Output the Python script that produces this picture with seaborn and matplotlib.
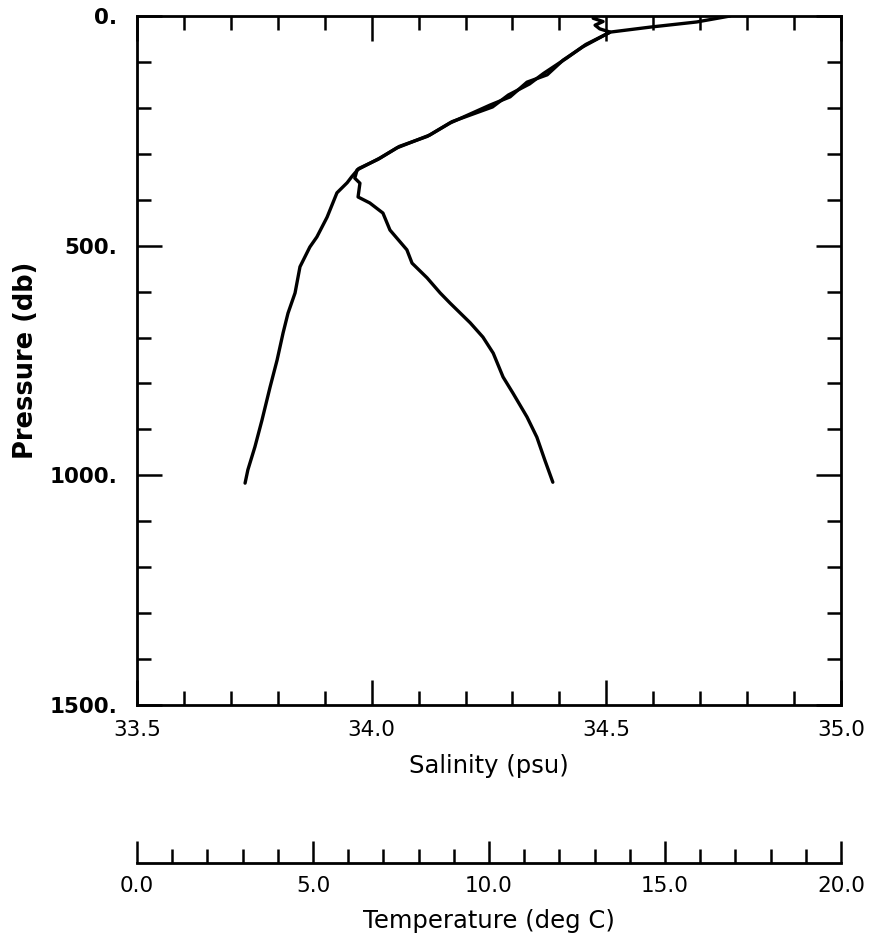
import numpy as np
import pandas as pd
import seaborn as sns
import matplotlib.pyplot as plt
from matplotlib.ticker import MultipleLocator

# salinity profile (psu) vs pressure (db)
sal_pres = [0, 5, 12, 20, 28, 35, 67, 96, 128, 144, 176, 194, 233, 259, 287, 309,
            335, 353, 364, 394, 407, 429, 466, 509, 538, 570, 603, 625, 668, 699,
            734, 786, 821, 873, 917, 967, 1015]
sal_vals = [34.48, 34.472, 34.493, 34.476, 34.486, 34.508, 34.450, 34.408, 34.374,
            34.331, 34.295, 34.252, 34.167, 34.124, 34.054, 34.018, 33.969, 33.964,
            33.975, 33.971, 33.996, 34.024, 34.039, 34.075, 34.086, 34.118, 34.146,
            34.167, 34.210, 34.237, 34.259, 34.280, 34.301, 34.331, 34.352, 34.369,
            34.386]

# temperature profile (deg C) vs pressure (db)
temp_pres = [0, 13, 24, 35, 62, 92, 125, 148, 172, 198, 230, 262, 284, 312, 332, 350,
             363, 385, 438, 481, 503, 546, 603, 647, 690, 749, 808, 880, 938, 988, 1017]
temp_vals = [16.85, 15.9, 14.6, 13.45, 12.75, 12.2, 11.55, 11.15, 10.55, 10.1, 8.95,
             8.25, 7.45, 6.85, 6.3, 6.1, 5.97, 5.68, 5.40, 5.11, 4.91, 4.63, 4.49,
             4.29, 4.15, 3.98, 3.78, 3.55, 3.35, 3.15, 3.07]

sal_ticks = [33.5, 34.0, 34.5, 35.0]
pres_ticks = [0, 500, 1000, 1500]
temp_ticks = [0.0, 5.0, 10.0, 15.0, 20.0]

df_sal = pd.DataFrame({"salinity": sal_vals, "pressure": sal_pres})
df_temp = pd.DataFrame({"temperature": temp_vals, "pressure": temp_pres})

sns.set_style("ticks")
plt.rcParams["font.family"] = ["DejaVu Sans"]
plt.rcParams["text.color"] = "black"
plt.rcParams["axes.labelcolor"] = "black"
plt.rcParams["axes.edgecolor"] = "black"
plt.rcParams["xtick.color"] = "black"
plt.rcParams["ytick.color"] = "black"

fig = plt.figure(figsize=(8.75, 9.41), dpi=100)
fig.patch.set_facecolor("white")

W, H = 875, 941
left, right, top, bottom = 137, 841, 16, 705
ax = fig.add_axes([left / W, 1 - bottom / H, (right - left) / W, (bottom - top) / H])
ax_t = ax.twiny()

sns.lineplot(data=df_sal, x="salinity", y="pressure", sort=False, estimator=None,
             color="black", lw=2.4, ax=ax)
sns.lineplot(data=df_temp, x="temperature", y="pressure", sort=False, estimator=None,
             color="black", lw=2.4, ax=ax_t)

ax.set_xlim(33.5, 35.0)
ax.set_ylim(1500, 0)
ax_t.set_xlim(0, 20)
ax_t.xaxis.set_visible(False)
for s in ax_t.spines.values():
    s.set_visible(False)

for s in ax.spines.values():
    s.set_visible(True)
    s.set_linewidth(2)
    s.set_color("black")

ax.xaxis.set_minor_locator(MultipleLocator(0.1))
ax.yaxis.set_minor_locator(MultipleLocator(100))
ax.set_xticks(sal_ticks, [f"{v:.1f}" for v in sal_ticks], fontsize=15.5)
ax.set_yticks(pres_ticks, [f"{v:.0f}." for v in pres_ticks], fontsize=15.5,
              fontweight="bold")
ax.tick_params(which="both", direction="in", top=True, right=True, width=1.8)
ax.tick_params(which="major", length=18)
ax.tick_params(which="minor", length=10)
ax.tick_params(axis="x", pad=11)
ax.tick_params(axis="y", pad=14)

ax.set_xlabel("Salinity (psu)", fontsize=17.5, labelpad=10)
ax.set_ylabel("Pressure (db)", fontsize=18.5, fontweight="bold", labelpad=8)

# separate temperature scale below the plot
line_y = 863
axT = fig.add_axes([left / W, 1 - line_y / H, (right - left) / W, 0.0001])
axT.set_xlim(0, 20)
axT.set_yticks([])
for name in ["left", "right", "top"]:
    axT.spines[name].set_visible(False)
axT.spines["bottom"].set_linewidth(2)
axT.spines["bottom"].set_color("black")
axT.xaxis.set_minor_locator(MultipleLocator(1))
axT.set_xticks(temp_ticks, [f"{v:.1f}" for v in temp_ticks], fontsize=15.5)
axT.tick_params(which="both", direction="in", width=1.8, pad=9)
axT.tick_params(which="major", length=16)
axT.tick_params(which="minor", length=10)
axT.set_xlabel("Temperature (deg C)", fontsize=17.5, labelpad=10)

fig.savefig("out.png", dpi=100, facecolor="white")
